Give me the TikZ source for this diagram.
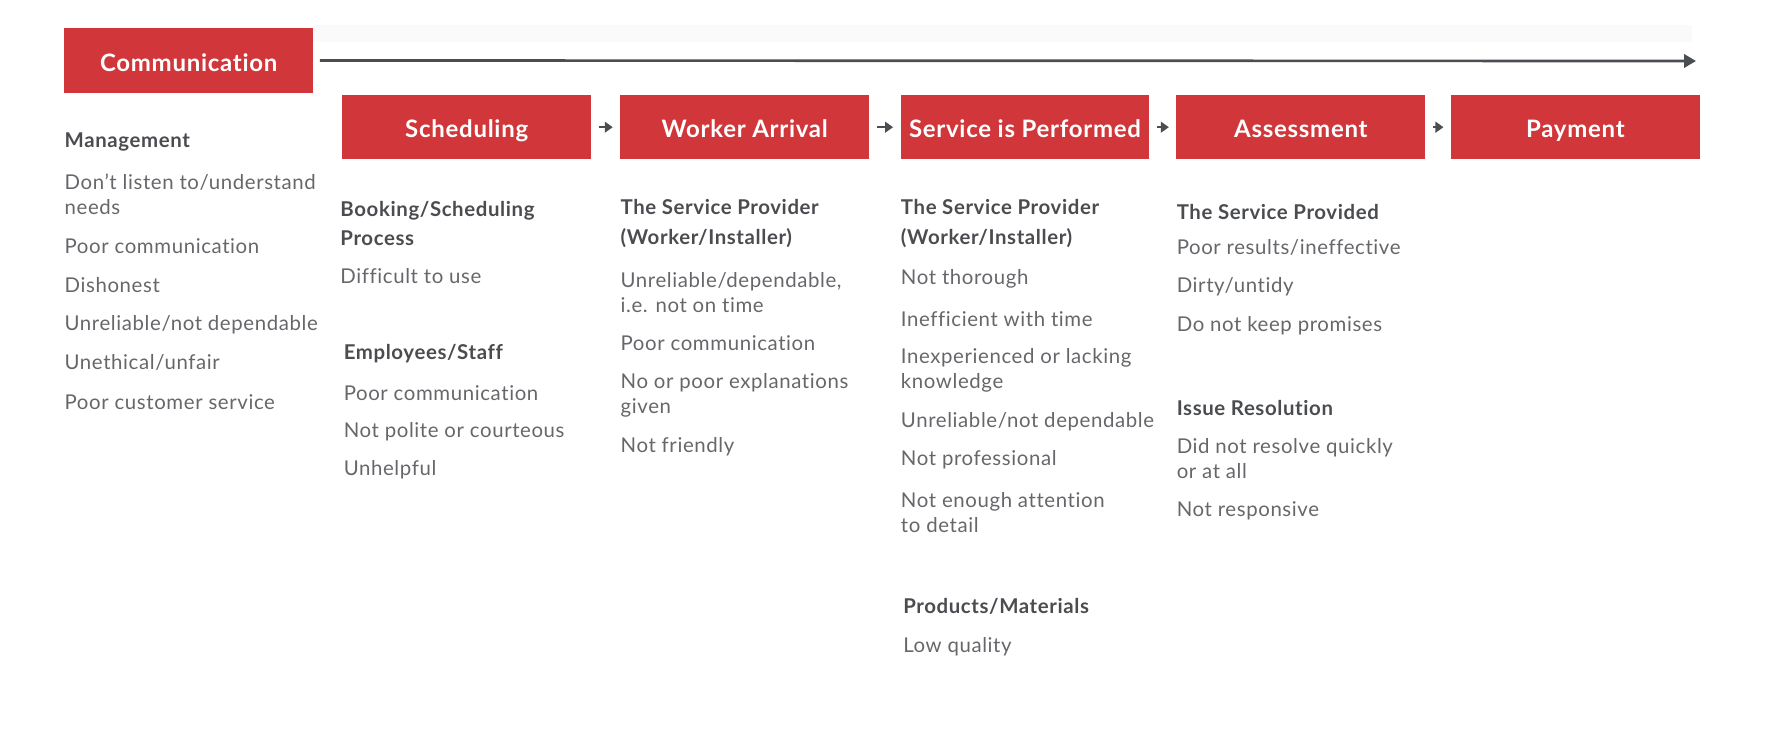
\documentclass[tikz,border=0pt]{standalone}
\usepackage{fontspec}
\setmainfont{Lato}
\newfontfamily\widefont{Lato}[LetterSpace=3.0, Ligatures={NoCommon}]
\usetikzlibrary{arrows.meta}
\definecolor{boxred}{HTML}{D1373A}
\definecolor{headgray}{HTML}{4A4C50}
\definecolor{bodygray}{HTML}{66676A}
\definecolor{arrowgray}{HTML}{4A4D52}
\tikzset{
  redbox/.style={fill=boxred, text=white, font=\widefont\fontsize{18}{20}\selectfont\bfseries,
    minimum width=186.5pt, minimum height=48.3pt, inner sep=0pt,
    text height=16pt, text depth=0pt},
  head/.style={anchor=west, inner sep=0pt, text=headgray, align=left,
    font=\widefont\fontsize{15.3}{22}\selectfont\bfseries, yshift=-1.6pt},
  item/.style={anchor=west, inner sep=0pt, text=bodygray, align=left,
    font=\widefont\fontsize{15.3}{18.75}\selectfont},
  stepArrow/.style={arrowgray, line width=1.8pt, -{Triangle[length=6pt,width=8pt]},
    shorten <=5.5pt, shorten >=5.5pt},
}
\begin{document}
\begin{tikzpicture}[x=0.75pt,y=-0.75pt]
\useasboundingbox (0,0) rectangle (1772,730);
\fill[black!2] (313,25) rectangle (1692,42);
% boxes
\node[redbox] (comm) at (188.7,60.5) {Communication};
\node[redbox] (sched) at (466.7,127.2) {Scheduling};
\node[redbox] (arrive) at (744.7,127.2) {Worker Arrival};
\node[redbox] (perf) at (1025,127.2) {Service is Performed};
\node[redbox] (assess) at (1300.8,127.2) {Assessment};
\node[redbox] (pay) at (1575.4,127.2) {Payment};
% long arrow
\coordinate (tl) at (1696,61);
\draw[arrowgray, line width=2pt, -{Triangle[length=9pt,width=10pt]}] ([xshift=5pt]comm.east) -- (tl);
% step arrows
\draw[stepArrow] (sched.east) -- (arrive.west);
\draw[stepArrow] (arrive.east) -- (perf.west);
\draw[stepArrow] (perf.east) -- (assess.west);
\draw[stepArrow] (assess.east) -- (pay.west);
% column 1
\node[head] (c1h) at (64.4,140.1) {Management};
\node[item] (c1a) at (64.4,194.4) {Don’t listen to/understand\\needs};
\node[item] (c1b) at (64.4,246.4) {Poor communication};
\node[item] (c1c) at (64.4,284.8) {Dishonest};
\node[item] (c1d) at (64.4,324.3) {Unreliable/not dependable};
\node[item] (c1e) at (64.4,362.8) {Unethical/unfair};
\node[item] (c1f) at (64.4,402.3) {Poor customer service};
% column 2
\node[head] (c2h) at (340.2,221.5) {Booking/Scheduling\\Process};
\node[item] (c2a) at (340.2,275.7) {Difficult to use};
\node[head] (c2h2) at (343.5,351.5) {Employees/Staff};
\node[item] (c2b) at (343.5,393.3) {Poor communication};
\node[item] (c2c) at (343.5,431.7) {Not polite or courteous};
\node[item] (c2d) at (343.5,470.1) {Unhelpful};
% column 3
\node[head] (c3h) at (620.4,221.5) {The Service Provider\\(Worker/Installer)};
\node[item] (c3a) at (620.4,292.1) {Unreliable/dependable,\\i.e. not on time};
\node[item] (c3b) at (620.4,343.5) {Poor communication};
\node[item] (c3c) at (620.4,395.5) {No or poor explanations\\given};
\node[item] (c3d) at (620.4,446.4) {Not friendly};
% column 4
\node[head] (c4h) at (900.7,221.5) {The Service Provider\\(Worker/Installer)};
\node[item] (c4a) at (900.7,279.1) {Not thorough};
\node[item] (c4b) at (900.7,318.7) {Inefficient with time};
\node[item] (c4c) at (900.7,370.1) {Inexperienced or lacking\\knowledge};
\node[item] (c4d) at (900.7,421.5) {Unreliable/not dependable};
\node[item] (c4e) at (900.7,460) {Not professional};
\node[item] (c4f) at (900.7,512.5) {Not enough attention\\to detail};
\node[head] (c4h2) at (903,604.6) {Products/Materials};
\node[item] (c4g) at (903,646.4) {Low quality};
% column 5
\node[head] (c5h) at (1176.5,210.2) {The Service Provided};
\node[item] (c5a) at (1176.5,247.5) {Poor results/ineffective};
\node[item] (c5b) at (1176.5,287) {Dirty/untidy};
\node[item] (c5c) at (1176.5,325.5) {Do not keep promises};
\node[head] (c5h2) at (1176.5,405.7) {Issue Resolution};
\node[item] (c5d) at (1176.5,458.8) {Did not resolve quickly\\or at all};
\node[item] (c5e) at (1176.5,510.8) {Not responsive};
\end{tikzpicture}
\end{document}
